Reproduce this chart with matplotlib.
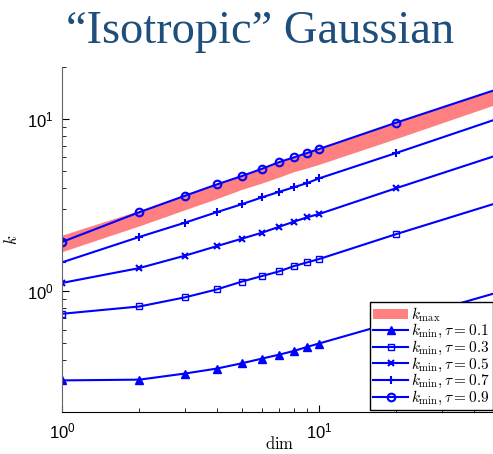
import matplotlib
matplotlib.use('Agg')
import matplotlib.pyplot as plt
from matplotlib.patches import Patch
from matplotlib.ticker import LogLocator

# dimensions evaluated
dims = [1, 2, 3, 4, 5, 6, 7, 8, 9, 10, 20, 50]

# upper / lower bound of k_max
kmax_hi = [2.12, 2.95, 3.62, 4.20, 4.70, 5.15, 5.60, 6.00, 6.35, 6.70, 9.60, 15.0]
kmax_lo = [1.70, 2.40, 2.97, 3.45, 3.90, 4.25, 4.60, 4.95, 5.20, 5.45, 7.70, 12.3]

# k_min for each tau
taus = [0.1, 0.3, 0.5, 0.7, 0.9]
kmin_01 = [0.305, 0.308, 0.334, 0.357, 0.383, 0.408, 0.430, 0.452, 0.477, 0.499, 0.67, 0.99]
kmin_03 = [0.742, 0.818, 0.923, 1.027, 1.139, 1.228, 1.307, 1.403, 1.474, 1.54, 2.15, 3.28]
kmin_05 = [1.12, 1.366, 1.61, 1.83, 2.02, 2.19, 2.37, 2.54, 2.69, 2.81, 3.97, 6.2]
kmin_07 = [1.474, 2.07, 2.50, 2.88, 3.20, 3.51, 3.78, 4.02, 4.25, 4.52, 6.35, 10.07]
kmin_09 = [1.935, 2.88, 3.58, 4.17, 4.66, 5.14, 5.62, 5.99, 6.35, 6.69, 9.52, 14.95]

plt.rcParams['mathtext.fontset'] = 'cm'
plt.rcParams['font.family'] = ['Liberation Sans', 'DejaVu Sans']

fig = plt.figure(figsize=(4.93, 4.54), dpi=100)
ax = fig.add_axes([62 / 493, 42 / 454, 436.6 / 493, 345 / 454])

ax.fill_between(dims, kmax_lo, kmax_hi, color='#ff8080', linewidth=0)

styles = [
    (kmin_01, dict(marker='^', markersize=6, markerfacecolor='blue')),
    (kmin_03, dict(marker='s', markersize=4.5, markerfacecolor='none')),
    (kmin_05, dict(marker='x', markersize=4.5, markeredgewidth=1.5)),
    (kmin_07, dict(marker='+', markersize=6, markeredgewidth=1.5)),
    (kmin_09, dict(marker='o', markersize=5.5, markerfacecolor='none', markeredgewidth=1.5)),
]
handles = [Patch(facecolor='#ff8080', edgecolor='none')]
for vals, st in styles:
    ln, = ax.plot(dims, vals, color='blue', linewidth=1.5, markeredgecolor='blue', **st)
    handles.append(ln)

labels = [r'$k_{\max}$'] + [r'$k_{\min}, \tau = %.1f$' % t for t in taus]

ax.set_xscale('log')
ax.set_yscale('log')
ax.set_xlim(1, 50)
ax.set_ylim(0.2, 20)
ax.xaxis.set_major_locator(LogLocator(base=10, numticks=5))
ax.yaxis.set_major_locator(LogLocator(base=10, numticks=5))

for side in ['top', 'right']:
    ax.spines[side].set_visible(False)
ax.spines['left'].set_color('#666666')
ax.spines['bottom'].set_color('black')
ax.tick_params(which='both', direction='in', labelsize=12, color='black')
ax.tick_params(axis='x', pad=7)
ax.tick_params(axis='y', pad=6)
ax.tick_params(which='major', length=5)
ax.tick_params(which='minor', length=3)

ax.set_xlabel(r'$\mathrm{dim}$', fontsize=12)
ax.set_ylabel(r'$k$', fontsize=12)
ax.xaxis.set_label_coords(0.499, -0.066)
ax.yaxis.set_label_coords(-0.096, 0.5)

leg = fig.legend(handles, labels, loc='lower right',
                 bbox_to_anchor=(492.5 / 493, 44 / 454),
                 bbox_transform=fig.transFigure, borderaxespad=0,
                 fontsize=11, handlelength=2.3, handletextpad=0.15,
                 labelspacing=-0.1, borderpad=0.2, fancybox=False,
                 framealpha=1, edgecolor='black')
leg.get_frame().set_linewidth(1.0)

fig.text(0.528, 0.905, '\u201cIsotropic\u201d Gaussian', ha='center', va='baseline',
         fontsize=33.5, color='#1d4e7c', family='Liberation Serif')

fig.savefig('out.png', dpi=100)
